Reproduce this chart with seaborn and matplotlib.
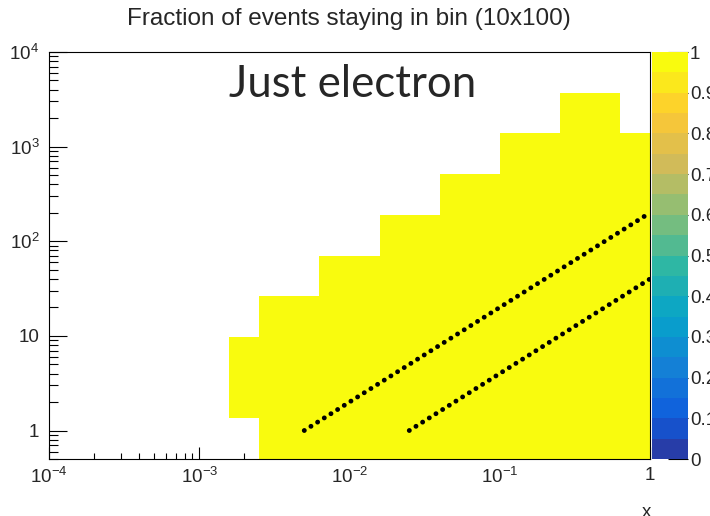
import numpy as np
import pandas as pd
import matplotlib
matplotlib.use("Agg")
import matplotlib.pyplot as plt
from matplotlib.colors import LinearSegmentedColormap, ListedColormap
from matplotlib.ticker import LogLocator, FixedLocator, NullFormatter
import seaborn as sns

# ---- binning of the (x, Q2) plane, in log10 units ----
log_x_edges = [-2.8, -2.6, -2.2, -1.8, -1.4, -1.0, -0.6, -0.2, 0.0]
log_q2_edges = [-0.301, 0.129, 0.559, 0.989, 1.419, 1.849, 2.279, 2.709, 3.139, 3.569, 4.0]

# per x column: first / last populated Q2 bin and the stay fraction
col_q2_first = [1, 0, 0, 0, 0, 0, 0, 0]
col_q2_last = [2, 3, 4, 5, 6, 7, 8, 7]
col_fraction = [1.0, 1.0, 1.0, 1.0, 1.0, 1.0, 1.0, 1.0]

# constant-inelasticity lines (end points in x and Q2)
y_line_a_x = [0.005, 1.0]
y_line_a_q2 = [1.0, 200.0]
y_line_b_x = [0.025, 1.0]
y_line_b_q2 = [1.0, 40.0]

# axis labelling
x_tick_values = [1e-4, 1e-3, 1e-2, 1e-1, 1.0]
x_tick_labels = [r"$\mathregular{10^{-4}}$", r"$\mathregular{10^{-3}}$",
                 r"$\mathregular{10^{-2}}$", r"$\mathregular{10^{-1}}$", "1"]
y_tick_values = [1.0, 10.0, 1e2, 1e3, 1e4]
y_tick_labels = ["1", "10", r"$\mathregular{10^{2}}$", r"$\mathregular{10^{3}}$",
                 r"$\mathregular{10^{4}}$"]
cbar_tick_values = [0.0, 0.1, 0.2, 0.3, 0.4, 0.5, 0.6, 0.7, 0.8, 0.9, 1.0]
cbar_tick_labels = ["0", "0.1", "0.2", "0.3", "0.4", "0.5", "0.6", "0.7", "0.8", "0.9", "1"]

title_text = "Fraction of events staying in bin (10x100)"
panel_text = "Just electron"

# ---- long-form table of populated cells ----
rows = []
for i, (lo, hi, frac) in enumerate(zip(col_q2_first, col_q2_last, col_fraction)):
    xc = 10 ** (0.5 * (log_x_edges[i] + log_x_edges[i + 1]))
    for j in range(lo, hi + 1):
        qc = 10 ** (0.5 * (log_q2_edges[j] + log_q2_edges[j + 1]))
        rows.append({"x": xc, "Q2": qc, "fraction": frac})
cells = pd.DataFrame(rows)

# ---- "bird" palette with 20 contour levels ----
bird_stops = [0.0, 0.125, 0.25, 0.375, 0.5, 0.625, 0.75, 0.875, 1.0]
bird_r = [0.2082, 0.0592, 0.0780, 0.0232, 0.1802, 0.5301, 0.8186, 0.9956, 0.9764]
bird_g = [0.1664, 0.3599, 0.5041, 0.6419, 0.7178, 0.7492, 0.7328, 0.7862, 0.9832]
bird_b = [0.5293, 0.8684, 0.8385, 0.7914, 0.6425, 0.4662, 0.3499, 0.1968, 0.0539]
bird = LinearSegmentedColormap.from_list(
    "bird", list(zip(bird_stops, zip(bird_r, bird_g, bird_b))), N=255)
n_levels = 20
bird20 = ListedColormap([bird(min((k + 0.99) / n_levels, 1.0)) for k in range(n_levels)])

# ---- figure ----
sns.set_style("white")
plt.rcParams["font.family"] = ["Liberation Sans", "DejaVu Sans"]
plt.rcParams["mathtext.fontset"] = "custom"
plt.rcParams["mathtext.rm"] = "Liberation Sans"
plt.rcParams["mathtext.it"] = "Liberation Sans:italic"

W, H = 710, 516
fig = plt.figure(figsize=(W / 100, H / 100), dpi=100)
ax = fig.add_axes([49 / W, (H - 459) / H, 601 / W, 407 / H])
cax = fig.add_axes([652 / W, (H - 459) / H, 36 / W, 407 / H])

sns.histplot(data=cells, x="x", y="Q2", weights="fraction",
             bins=(log_x_edges, log_q2_edges), log_scale=(True, True),
             cmap=bird20, vmin=0, vmax=1, cbar=True, cbar_ax=cax, ax=ax)

for lx, lq in [(y_line_a_x, y_line_a_q2), (y_line_b_x, y_line_b_q2)]:
    ax.plot(lx, lq, color="black", lw=3.5, linestyle=(0, (0.01, 1.61)),
            dash_capstyle="round", zorder=5)

ax.set_xscale("log")
ax.set_yscale("log")
ax.set_xlim(1e-4, 1.0)
ax.set_ylim(0.5, 1e4)
ax.set_xlabel("")
ax.set_ylabel("")

tick_fs = 13.5
ax.xaxis.set_major_locator(FixedLocator(x_tick_values))
ax.set_xticklabels(x_tick_labels, fontsize=tick_fs)
ax.yaxis.set_major_locator(FixedLocator(y_tick_values))
ax.set_yticklabels(y_tick_labels, fontsize=tick_fs)
ax.xaxis.set_minor_locator(LogLocator(base=10, subs=np.arange(2, 10), numticks=50))
ax.yaxis.set_minor_locator(LogLocator(base=10, subs=np.arange(2, 10), numticks=50))
ax.xaxis.set_minor_formatter(NullFormatter())
ax.yaxis.set_minor_formatter(NullFormatter())

ax.tick_params(axis="x", which="major", direction="in", length=8.6, width=0.8,
               color="black", pad=6, bottom=True, top=False)
ax.tick_params(axis="x", which="minor", direction="in", length=4.3, width=0.8,
               color="black", bottom=True, top=False)
ax.tick_params(axis="y", which="major", direction="in", length=13, width=0.8,
               color="black", pad=7, left=True, right=False)
ax.tick_params(axis="y", which="minor", direction="in", length=6.5, width=0.8,
               color="black", left=True, right=False)
for sp in ax.spines.values():
    sp.set_visible(True)
    sp.set_color("black")
    sp.set_linewidth(0.8)
ax.grid(False)

# colour scale
cax.set_yticks(cbar_tick_values)
cax.set_yticklabels(cbar_tick_labels, fontsize=tick_fs)
cax.yaxis.set_minor_locator(FixedLocator([]))
cax.tick_params(axis="y", direction="in", length=14.5, width=0.8, color="black",
                pad=1.5, right=True, left=False)
cax.set_ylabel("")
for sp in cax.spines.values():
    sp.set_visible(False)

fig.text(349 / W, 1 - 19 / H, title_text, ha="center", va="center", fontsize=17.5)
fig.text(353 / W, 1 - 84 / H, panel_text, ha="center", va="center", fontsize=31.5,
         family=["Lato", "DejaVu Sans"])
fig.text(646 / W, 1 - 504 / H, "x", ha="center", va="top", fontsize=tick_fs)

fig.savefig("out.png", dpi=100)
